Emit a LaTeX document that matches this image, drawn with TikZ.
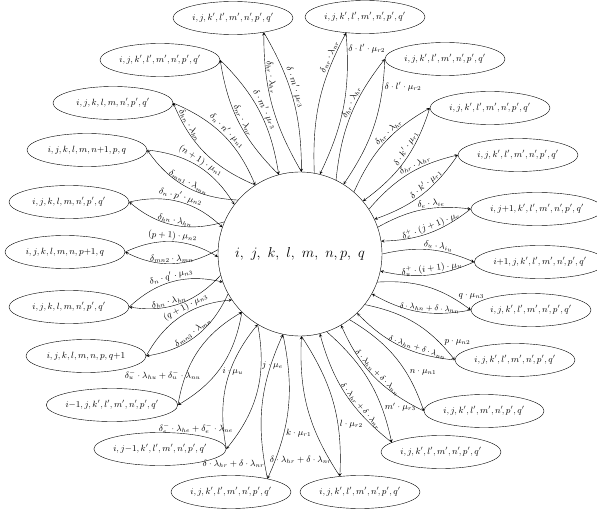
\documentclass[tikz,border=0pt]{standalone}
\usetikzlibrary{shapes.geometric}
\begin{document}
\begin{tikzpicture}[x=1pt, y=1pt, >=stealth,
    state/.style={ellipse, draw, minimum width=120pt, minimum height=33pt, inner sep=0pt, font=\small},
    rate/.style={font=\small, sloped, auto, inner sep=1pt},
    flat/.style={font=\small, auto, inner sep=1pt}]
    \useasboundingbox (0,0) rectangle (597,-513);

    % Central state
    \node[circle, draw, minimum size=164pt, font=\Large] (c) at (300,-254) {$i,\ j,\ k,\ l,\ m,\ n,p,\ q$};

    % Neighbouring states, clockwise from the top
    \node[state] (s1)  at (233,-18)  {$i, j, k', l', m', n'\!,p', q'$};
    \node[state] (s2)  at (365,-17)  {$i, j, k', l', m', n'\!,p', q'$};
    \node[state] (s3)  at (445,-59)  {$i, j, k', l', m', n'\!,p', q'$};
    \node[state] (s4)  at (490,-108) {$i, j, k', l', m', n'\!,p', q'$};
    \node[state] (s5)  at (518,-155) {$i, j, k', l', m', n'\!,p', q'$};
    \node[state] (s6)  at (537,-209) {$i, j{+}1, k', l', m', n'\!,p', q'$};
    \node[state] (s7)  at (540,-262) {$i{+}1, j, k', l', m', n'\!,p', q'$};
    \node[state] (s8)  at (531,-310) {$i, j, k', l', m', n'\!,p', q'$};
    \node[state] (s9)  at (515,-360) {$i, j, k', l', m', n'\!,p', q'$};
    \node[state] (s10) at (484,-411) {$i, j, k', l', m', n'\!,p', q'$};
    \node[state] (s11) at (441,-452) {$i, j, k', l', m', n'\!,p', q'$};
    \node[state] (s12) at (360,-492) {$i, j, k', l', m', n'\!,p', q'$};
    \node[state] (s13) at (231,-492) {$i, j, k', l', m', n'\!,p', q'$};
    \node[state] (s14) at (160,-449) {$i, j{-}1, k', l', m', n'\!,p', q'$};
    \node[state] (s15) at (112,-405) {$i{-}1, j, k', l', m', n'\!,p', q'$};
    \node[state] (s16) at (86,-356)  {$i, j, k, l, m, n,p, q{+}1$};
    \node[state] (s17) at (69,-307)  {$i, j, k, l, m, n'\!,p', q'$};
    \node[state] (s18) at (65,-252)  {$i, j, k, l, m, n,p{+}1, q$};
    \node[state] (s19) at (69,-202)  {$i, j, k, l, m, n'\!,p', q'$};
    \node[state] (s20) at (87,-150)  {$i, j, k, l, m, n{+}1,p, q$};
    \node[state] (s21) at (113,-103) {$i, j, k, l, m, n'\!,p', q'$};
    \node[state] (s22) at (160,-60)  {$i, j, k', l', m', n'\!,p', q'$};

    % Top group
    \draw[->] (s22.0) to[bend left=18] node[rate] {$\delta\cdot m'\cdot\mu_{r3}$} (c.105);
    \draw[->] (c.105) to[bend left=18] node[rate] {$\delta_{nr}\cdot\lambda_{nr}$} (s22.0);
    \draw[->] (s1.-25) to[bend left=15] node[rate, pos=0.42] {$\delta\cdot m'\cdot\mu_{r3}$} (c.89);
    \draw[->] (c.89) to[bend left=15] node[rate, pos=0.7] {$\delta_{hr}\cdot\lambda_{hr}$} (s1.-25);
    \draw[->] (s2.-140) to[bend left=15] node[flat, pos=0.1] {$\delta\cdot l'\cdot\mu_{r2}$} (c.76);
    \draw[->] (c.80) to[bend left=15] node[rate, pos=0.82] {$\delta_{nr}\cdot\lambda_{nr}$} (s2.-140);
    \draw[->] (s3.180) to[bend left=16] node[flat, pos=0.15] {$\delta\cdot l'\cdot\mu_{r2}$} (c.58);
    \draw[->] (c.64) to[bend left=16] node[rate, pos=0.6] {$\delta_{hr}\cdot\lambda_{hr}$} (s3.180);

    % Right group
    \draw[->] (s4.180) to[bend left=18] node[rate, pos=0.4] {$\delta\cdot k'\cdot\mu_{r1}$} (c.40);
    \draw[->] (c.49) to[bend left=18] node[rate, pos=0.6] {$\delta_{hr}\cdot\lambda_{hr}$} (s4.180);
    \draw[->] (s5.180) to[bend left=18] node[rate, pos=0.4] {$\delta\cdot k'\cdot\mu_{r1}$} (c.25);
    \draw[->] (c.33) to[bend left=18] node[rate, pos=0.6] {$\delta_{hr}\cdot\lambda_{hr}$} (s5.180);
    \draw[->] (s6.180) to[bend left=18] node[rate, pos=0.45] {$\delta_e^{+}\cdot(j+1)\cdot\mu_e$} (c.9);
    \draw[->] (c.19) to[bend left=18] node[rate, pos=0.6] {$\delta_e\cdot\lambda_{ie}$} (s6.180);
    \draw[->] (s7.180) to[bend left=18] node[rate, pos=0.45] {$\delta_u^{+}\cdot(i+1)\cdot\mu_u$} (c.-12);
    \draw[->] (c.0) to[bend left=18] node[rate, pos=0.6] {$\delta_u\cdot\lambda_{iu}$} (s7.180);
    \draw[->] (s8.180) to[bend left=20] node[rate, pos=0.4, font=\footnotesize] {$\delta\cdot\lambda_{hn}+\delta\cdot\lambda_{nn}$} (c.-29);
    \draw[->] (c.-20) to[bend left=20] node[flat, pos=0.85] {$q\cdot\mu_{n3}$} (s8.180);
    \draw[->] (s9.180) to[bend left=20] node[rate, pos=0.35, font=\footnotesize] {$\delta\cdot\lambda_{hn}+\delta\cdot\lambda_{nn}$} (c.-46);
    \draw[->] (c.-38) to[bend left=20] node[flat, pos=0.85] {$p\cdot\mu_{n2}$} (s9.180);
    \draw[->] (s10.180) to[bend left=20] node[rate, pos=0.5, font=\footnotesize] {$\delta\cdot\lambda_{hn}+\delta\cdot\lambda_{nn}$} (c.-60);
    \draw[->] (c.-53) to[bend left=20] node[flat, pos=0.7] {$n\cdot\mu_{n1}$} (s10.180);

    % Bottom group
    \draw[->] (s11.169) to[bend left=18] node[rate, pos=0.35, font=\footnotesize] {$\delta\cdot\lambda_{hr}+\delta\cdot\lambda_{nr}$} (c.-76);
    \draw[->] (c.-71) to[bend left=18] node[flat, pos=0.78] {$m'\cdot\mu_{r3}$} (s11.169);
    \draw[->] (s12.142) to[bend left=18] node[font=\small, inner sep=1pt, pos=0.08, anchor=south east] {$\delta\cdot\lambda_{hr}+\delta\cdot\lambda_{nr}$} (c.-89);
    \draw[->] (c.-89) to[bend left=18] node[flat, pos=0.7] {$l\cdot\mu_{r2}$} (s12.142);
    \draw[->] (s13.20) to[bend left=18] node[font=\small, inner sep=1pt, pos=0.06, anchor=south east] {$\delta\cdot\lambda_{hr}+\delta\cdot\lambda_{nr}$} (c.-102);
    \draw[->] (c.-102) to[bend left=18] node[flat, pos=0.65] {$k\cdot\mu_{r1}$} (s13.20);
    \draw[->] (s14.0) to[bend left=25] node[font=\small, inner sep=1pt, pos=0.1, anchor=south east, xshift=10pt] {$\delta_e^{-}\cdot\lambda_{he}+\delta_e^{-}\cdot\lambda_{ne}$} (c.-121);
    \draw[->] (c.-121) to[bend left=25] node[flat, pos=0.3] {$j\cdot\mu_e$} (s14.0);
    \draw[->] (s15.0) to[bend left=25] node[font=\small, inner sep=1pt, pos=0.2, anchor=south east, xshift=18pt] {$\delta_u^{-}\cdot\lambda_{hu}+\delta_u^{-}\cdot\lambda_{nu}$} (c.-135);
    \draw[->] (c.-135) to[bend left=25] node[flat, pos=0.5] {$i\cdot\mu_u$} (s15.0);

    % Left group
    \draw[->] (s16.0) to[bend left=28] node[rate, pos=0.58] {$(q+1)\cdot\mu_{n3}$} (c.-146);
    \draw[->] (c.-151) to[bend left=28] node[rate] {$\delta_{mn3}\cdot\lambda_{mn}$} (s16.0);
    \draw[->] (s17.0) to[bend left=28] node[rate] {$\delta_n\cdot q'\cdot\mu_{n3}$} (c.-160);
    \draw[->] (c.-165) to[bend left=28] node[rate, pos=0.6] {$\delta_{hn}\cdot\lambda_{hn}$} (s17.0);
    \draw[->] (s18.0) to[bend left=28] node[rate] {$(p+1)\cdot\mu_{n2}$} (c.182);
    \draw[->] (c.177) to[bend left=28] node[rate] {$\delta_{mn2}\cdot\lambda_{mn}$} (s18.0);
    \draw[->] (s19.0) to[bend left=28] node[rate] {$\delta_n\cdot p'\cdot\mu_{n2}$} (c.161);
    \draw[->] (c.157) to[bend left=28] node[rate] {$\delta_{hn}\cdot\lambda_{hn}$} (s19.0);
    \draw[->] (s20.0) to[bend left=26] node[rate, pos=0.5] {$(n+1)\cdot\mu_{n1}$} (c.143);
    \draw[->] (c.139) to[bend left=26] node[rate] {$\delta_{mn1}\cdot\lambda_{mn}$} (s20.0);
    \draw[->] (s21.0) to[bend left=22] node[rate] {$\delta_n\cdot n'\cdot\mu_{n1}$} (c.123);
    \draw[->] (c.123) to[bend left=22] node[rate, pos=0.78] {$\delta_{hn}\cdot\lambda_{hn}$} (s21.0);
\end{tikzpicture}
\end{document}
